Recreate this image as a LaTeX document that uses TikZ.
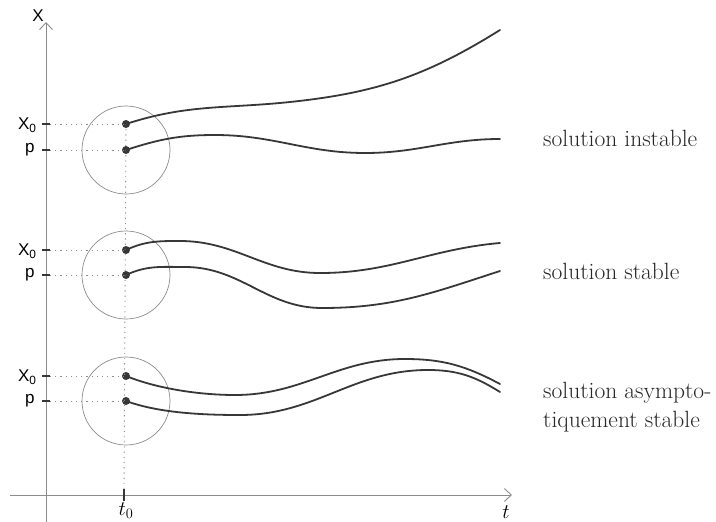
\documentclass[tikz,border=0pt]{standalone}
\usepackage{fontspec}
\newfontfamily\labfont{Liberation Sans}
\usetikzlibrary{arrows.meta}
\definecolor{axisgray}{RGB}{140,140,140}
\definecolor{curvedark}{RGB}{55,55,55}
\begin{document}
\begin{tikzpicture}[x=1pt,y=-1pt,
  axis/.style={draw=axisgray, line width=0.9pt},
  axtip/.style={-{Straight Barb[length=7pt,width=13pt,line width=0.9pt]}},
  ring/.style={circle, draw=axisgray, line width=0.7pt, minimum size=88pt, inner sep=0pt},
  dot/.style={circle, fill=curvedark, minimum size=8pt, inner sep=0pt},
  curve/.style={draw=curvedark, line width=1.8pt, line cap=round},
  guide/.style={draw=axisgray, line width=0.9pt, dash pattern=on 1.2pt off 4pt},
  tickmark/.style={draw=curvedark, line width=1.6pt},
  axlab/.style={font=\labfont\fontsize{17}{20}\selectfont, text=black},
  sol/.style={anchor=west, font=\fontsize{23.5}{29}\selectfont, text=black!85, align=left, inner sep=0pt}
]
\useasboundingbox (0,0) rectangle (716,522);
% axes
\coordinate (ybot) at (46,522);
\coordinate (ytop) at (46,22);
\coordinate (xleft) at (10,495);
\coordinate (xright) at (512,495);
\draw[axis, axtip] (ybot) -- (ytop);
\draw[axis, axtip] (xleft) -- (xright);
\node[axlab] (Xlab) at (38,16) {X};
\coordinate (t0top) at (124,489);
\coordinate (t0bot) at (124,501);
\draw[tickmark, line width=1.2pt] (t0top) -- (t0bot);
\node[font=\fontsize{20}{24}\selectfont, inner sep=1pt] (t0lab) at (126,511) {$t_0$};
\node[font=\fontsize{20}{24}\selectfont, inner sep=1pt] (tlab) at (506,512) {$t$};
% groups
\foreach \i/\a/\b in {1/124/150, 2/250/275, 3/376/401}{
  \node[ring] (c\i) at (126,\b) {};
  \node[dot] (x\i) at (126,\a) {};
  \node[dot] (p\i) at (126,\b) {};
  \coordinate (ta\i) at (50,\a);
  \coordinate (tb\i) at (50,\b);
  \draw[tickmark] (42,\a) -- (ta\i);
  \draw[tickmark] (42,\b) -- (tb\i);
  \draw[guide] (ta\i) -- (x\i.center);
  \draw[guide] (tb\i) -- (p\i.center);
  \node[axlab, anchor=east] (lx\i) at (40,\a+1) {X\textsubscript{0}};
  \node[axlab, anchor=east] (lp\i) at (38,\b) {p};
}
\coordinate (vbot) at (124,489);
\draw[guide] (x1.center) -- (vbot);
% curves: unstable
\draw[curve] (x1.center) to[out=18,in=186] (290,102) to[out=6,in=212] (500,30);
\draw[curve] (p1.center) to[out=18,in=180] (215,135) to[out=0,in=180] (365,153) to[out=0,in=180] (500,139);
% stable
\draw[curve] (x2.center) to[out=25,in=180] (180,241) to[out=0,in=180] (320,273) to[out=0,in=185] (500,243);
\draw[curve] (p2.center) to[out=25,in=180] (185,267) to[out=0,in=180] (322,308) to[out=0,in=198] (500,271);
% asymptotically stable
\draw[curve] (x3.center) to[out=-22,in=180,looseness=0.8] (235,395) to[out=0,in=180] (405,359) to[out=0,in=152] (500,384);
\draw[curve] (p3.center) to[out=-20,in=180,looseness=0.8] (240,415) to[out=0,in=180] (428,370) to[out=0,in=148] (500,392);
% labels
\node[sol] (s1) at (543,138) {solution instable};
\node[sol] (s2) at (543,271) {solution stable};
\node[sol] (s3) at (543,407) {solution asympto-\\tiquement stable};
\end{tikzpicture}
\end{document}
